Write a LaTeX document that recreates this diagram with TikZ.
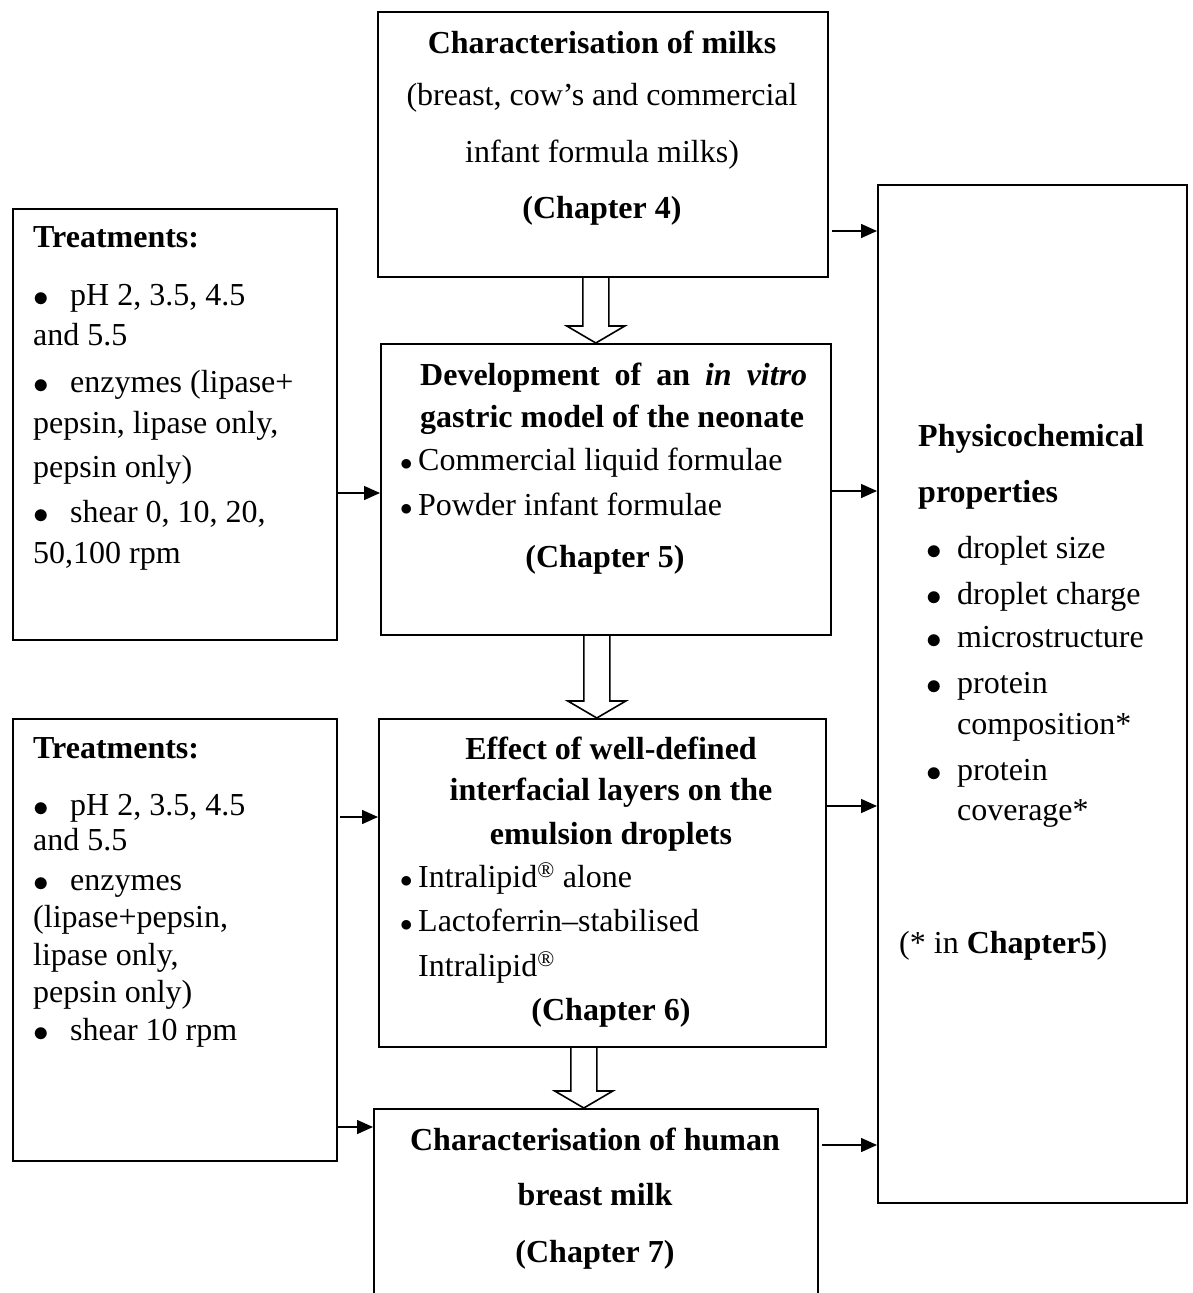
\documentclass[tikz,border=0pt]{standalone}
\usepackage{fontspec}
\usepackage{graphicx}
\setmainfont{Liberation Serif}
\usetikzlibrary{arrows.meta,calc}
\newcommand\fs{\fontsize{32}{38}\selectfont}
\newcommand\bigbul{\raisebox{-1pt}{\scalebox{1.25}{$\bullet$}}}
\newcommand\bul{\makebox[37pt][l]{\bigbul}}
\newcommand\pbul{\makebox[31pt][l]{\bigbul}}
\newcommand\sbul{\makebox[18pt][l]{\fontsize{26}{26}\selectfont$\bullet$}}
\newcommand\hollowarr[2]{%
  \path (#1 |- #2.north) coordinate (#1tip);
  \draw[hol] ($(#1)+(-13,0)$) -- ($(#1tip)+(-13,-17)$) -- ($(#1tip)+(-29,-17)$) -- (#1tip)
     -- ($(#1tip)+(29,-17)$) -- ($(#1tip)+(13,-17)$) -- ($(#1)+(13,0)$);}
\begin{document}
\begin{tikzpicture}[x=1pt,y=-1pt,
  box/.style={draw, line width=1.6pt, inner sep=0pt, anchor=north west},
  lt/.style={anchor=base west, inner sep=0pt, font=\fs},
  ct/.style={anchor=base, inner sep=0pt, font=\fs},
  arr/.style={line width=1.5pt, -{Triangle[length=16pt,width=14pt]}},
  hol/.style={draw, line width=1.6pt, line join=miter}]
\useasboundingbox (0,0) rectangle (1192,1293);
\clip (0,0) rectangle (1192,1293);
% boxes
\node[box, minimum width=450pt, minimum height=265pt] (A) at (377,11) {};
\node[box, minimum width=324pt, minimum height=431pt] (T1) at (12,208) {};
\node[box, minimum width=450pt, minimum height=291pt] (B) at (380,343) {};
\node[box, minimum width=324pt, minimum height=442pt] (T2) at (12,718) {};
\node[box, minimum width=447pt, minimum height=328pt] (C) at (378,718) {};
\node[box, minimum width=444pt, minimum height=230pt] (D) at (373,1108) {};
\node[box, minimum width=309pt, minimum height=1018pt] (P) at (877,184) {};
% box A text
\node[ct] (a1) at (602,53) {\bfseries Characterisation of milks};
\node[ct] (a2) at (602,105) {(breast, cow’s and commercial};
\node[ct] (a3) at (602,162) {infant formula milks)};
\node[ct] (a4) at (602,218) {\bfseries (Chapter 4)};
% T1 text
\node[lt] (t11) at (33,247) {\bfseries Treatments:};
\node[lt] (t12) at (33,305) {\bul pH 2, 3.5, 4.5};
\node[lt] (t13) at (33,345) {and 5.5};
\node[lt] (t14) at (33,392) {\bul enzymes (lipase+};
\node[lt] (t15) at (33,433) {pepsin, lipase only,};
\node[lt] (t16) at (33,477) {pepsin only)};
\node[lt] (t17) at (33,522) {\bul shear 0, 10, 20,};
\node[lt] (t18) at (33,563) {50,100 rpm};
% T2 text
\node[lt] (t21) at (33,758) {\bfseries Treatments:};
\node[lt] (t22) at (33,815) {\bul pH 2, 3.5, 4.5};
\node[lt] (t23) at (33,850) {and 5.5};
\node[lt] (t24) at (33,890) {\bul enzymes};
\node[lt] (t25) at (33,927) {(lipase+pepsin,};
\node[lt] (t26) at (33,965) {lipase only,};
\node[lt] (t27) at (33,1002) {pepsin only)};
\node[lt] (t28) at (33,1040) {\bul shear 10 rpm};
% B text
\node[lt] (b1) at (420,385) {\bfseries\hbox to 387pt{Development\hfill of\hfill an\hfill \textit{in}\hfill \textit{vitro}}};
\node[lt] (b2) at (420,427) {\bfseries gastric model of the neonate};
\node[lt] (b3) at (400,470) {\sbul Commercial liquid formulae};
\node[lt] (b4) at (400,515) {\sbul Powder infant formulae};
\node[ct] (b5) at (605,567) {\bfseries (Chapter 5)};
% C text
\node[ct] (c1) at (611,759) {\bfseries Effect of well-defined};
\node[ct] (c2) at (611,800) {\bfseries interfacial layers on the};
\node[ct] (c3) at (611,844) {\bfseries emulsion droplets};
\node[lt] (c4) at (400,887) {\sbul Intralipid\textsuperscript{®} alone};
\node[lt] (c5) at (400,931) {\sbul Lactoferrin–stabilised};
\node[lt] (c6) at (418,976) {Intralipid\textsuperscript{®}};
\node[ct] (c7) at (611,1020) {\bfseries (Chapter 6)};
% D text
\node[ct] (d1) at (595,1150) {\bfseries Characterisation of human};
\node[ct] (d2) at (595,1205) {\bfseries breast milk};
\node[ct] (d3) at (595,1262) {\bfseries (Chapter 7)};
% P text
\node[lt] (p1) at (918,446) {\bfseries Physicochemical};
\node[lt] (p2) at (918,502) {\bfseries properties};
\node[lt] (p3) at (926,558) {\pbul droplet size};
\node[lt] (p4) at (926,604) {\pbul droplet charge};
\node[lt] (p5) at (926,647) {\pbul microstructure};
\node[lt] (p6) at (926,693) {\pbul protein};
\node[lt] (p7) at (957,734) {composition*};
\node[lt] (p8) at (926,780) {\pbul protein};
\node[lt] (p9) at (957,820) {coverage*};
\node[lt] (p10) at (899,953) {(* in \textbf{Chapter5})};
% arrows
\coordinate (s1) at (832,231);
\coordinate (s2) at (336,493);
\coordinate (s3) at (830,491);
\coordinate (s4) at (340,817);
\coordinate (s5) at (825,806);
\coordinate (s6) at (336,1127);
\coordinate (s7) at (822,1145);
\draw[arr] (s1) -- (s1 -| P.west);
\draw[arr] (s2) -- (s2 -| B.west);
\draw[arr] (s3) -- (s3 -| P.west);
\draw[arr] (s4) -- (s4 -| C.west);
\draw[arr] (s5) -- (s5 -| P.west);
\draw[arr] (s6) -- (s6 -| D.west);
\draw[arr] (s7) -- (s7 -| P.west);
% hollow arrows
\coordinate (h1) at ($(A.south)+(-7,0)$);
\coordinate (h2) at ($(B.south)+(-9,0)$);
\coordinate (h3) at ($(C.south)+(-18.5,0)$);
\hollowarr{h1}{B}
\hollowarr{h2}{C}
\hollowarr{h3}{D}
\end{tikzpicture}
\end{document}
